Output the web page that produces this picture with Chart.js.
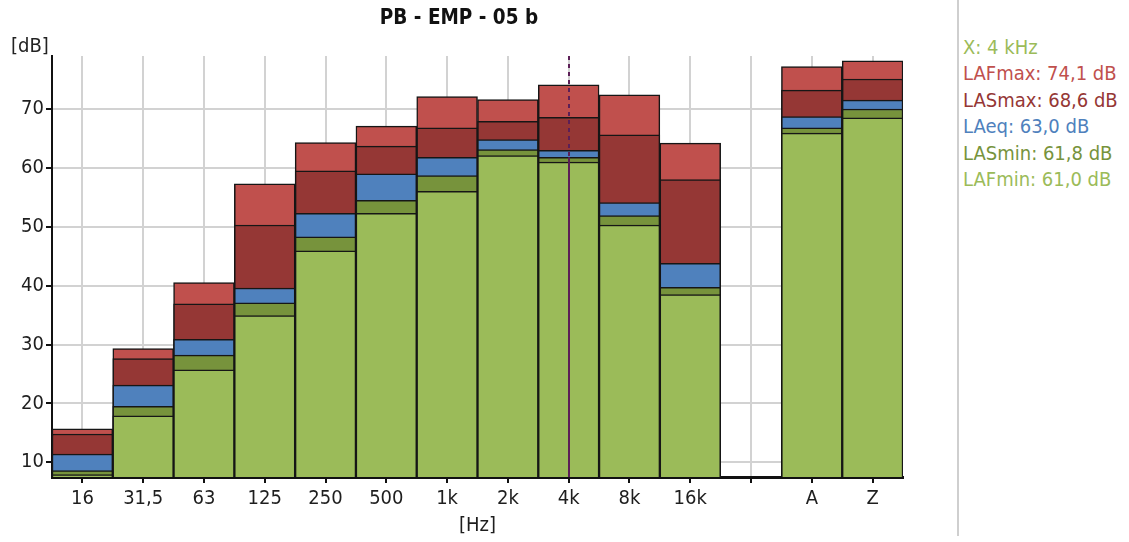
<!DOCTYPE html>
<html>
<head>
<meta charset="utf-8">
<title>PB - EMP - 05 b</title>
<script src="https://cdn.jsdelivr.net/npm/chart.js@4.4.1/dist/chart.umd.min.js"></script>
<style>
  body { margin: 0; background: #fff; font-family: 'DejaVu Sans Condensed', 'DejaVu Sans', sans-serif; }
  #wrap { position: absolute; left: 0; top: 0; width: 950px; height: 542px; }
  #dbUnit { position: absolute; left: 11px; top: 33px; font-size: 20px; color: #222; }
  #divider { position: absolute; left: 957px; top: 0; width: 2px; height: 536px; background: #cfcfcf; }
  #readout { position: absolute; left: 963px; top: 34px; font-size: 20px; line-height: 26.4px; white-space: nowrap; }
</style>
</head>
<body>
<div id="wrap"><canvas id="spectrum"></canvas></div>
<div id="dbUnit">[dB]</div>
<div id="divider"></div>
<div id="readout"></div>
<script>
// octave bands plus the A / Z weighted totals (empty slot keeps the gap)
const bands = ['16', '31,5', '63', '125', '250', '500', '1k', '2k', '4k', '8k', '16k', '', 'A', 'Z']
const lafMax = [15.7, 29.3, 40.5, 57.3, 64.3, 67.1, 72.1, 71.6, 74.1, 72.4, 64.2, null, 77.2, 78.2]
const lasMax = [14.8, 27.6, 36.9, 50.3, 59.5, 63.7, 66.8, 67.9, 68.6, 65.6, 58.0, null, 73.2, 75.1]
const laEq = [11.4, 23.1, 30.9, 39.6, 52.3, 59.0, 61.8, 64.8, 63.0, 54.1, 43.8, null, 68.7, 71.5]
const lasMin = [8.6, 19.5, 28.2, 37.1, 48.3, 54.5, 58.7, 63.1, 61.8, 51.9, 39.7, null, 66.8, 70.0]
const lafMin = [7.9, 17.9, 25.7, 34.9, 45.9, 52.3, 56.0, 62.1, 61.0, 50.3, 38.5, null, 65.9, 68.5]
const dbTicks = [10, 20, 30, 40, 50, 60, 70]

const cursorBand = '4k'
const cursorLabel = 'X: 4 kHz'

const FONT = "'DejaVu Sans Condensed', 'DejaVu Sans', sans-serif"
const TEXT = '#1e1e1e'

// first dataset is painted last, so the lowest level sits on top
const series = [
  { label: 'LAFmin', data: lafMin, color: '#9bbb59' },
  { label: 'LASmin', data: lasMin, color: '#77933c' },
  { label: 'LAeq', data: laEq, color: '#4f81bd' },
  { label: 'LASmax', data: lasMax, color: '#953735' },
  { label: 'LAFmax', data: lafMax, color: '#c0504d' },
]

// cursor: dashed above the levels, solid through the lowest band
const cursorLine = {
  id: 'cursorLine',
  afterDatasetsDraw(chart) {
    const idx = bands.indexOf(cursorBand)
    const x = Math.round(chart.scales.x.getPixelForValue(idx))
    const yMin = chart.scales.y.getPixelForValue(lasMin[idx])
    const area = chart.chartArea
    const ctx = chart.ctx
    ctx.save()
    ctx.strokeStyle = '#5c1f57'
    ctx.lineWidth = 2
    ctx.setLineDash([4, 4])
    ctx.beginPath()
    ctx.moveTo(x, area.top)
    ctx.lineTo(x, yMin)
    ctx.stroke()
    ctx.setLineDash([])
    ctx.beginPath()
    ctx.moveTo(x, yMin)
    ctx.lineTo(x, area.bottom)
    ctx.stroke()
    ctx.restore()
  },
}

new Chart(document.getElementById('spectrum').getContext('2d'), {
  type: 'bar',
  data: {
    labels: bands,
    datasets: series.map((s) => ({
      label: s.label,
      data: s.data,
      backgroundColor: s.color,
      borderColor: '#161616',
      borderWidth: 1.5,
      borderSkipped: false,
      barPercentage: 1,
      categoryPercentage: 1,
      grouped: false,
    })),
  },
  options: {
    responsive: true,
    maintainAspectRatio: false,
    animation: false,
    events: [],
    layout: { padding: { left: 15, right: 47, top: 0, bottom: 0 } },
    plugins: {
      legend: { display: false },
      tooltip: { enabled: false },
      title: {
        display: true,
        text: 'PB - EMP - 05 b',
        color: '#111',
        font: { family: FONT, size: 20.5, weight: 'bold' },
        padding: { top: 6, bottom: 25.4 },
      },
    },
    scales: {
      x: {
        offset: true,
        grid: { offset: false, color: '#d2d2d2', lineWidth: 2, tickColor: '#111', tickLength: 6 },
        border: { color: '#111', width: 3 },
        ticks: { color: TEXT, font: { family: FONT, size: 20 }, padding: 4, maxRotation: 0, autoSkip: false },
        title: { display: true, text: '[Hz]', color: TEXT, font: { family: FONT, size: 20 }, padding: { top: 0, bottom: 4 } },
        afterFit: (s) => { s.height = 65 },
      },
      y: {
        min: 7.5,
        max: 79,
        afterBuildTicks: (s) => { s.ticks = dbTicks.map((v) => ({ value: v })) },
        grid: { color: '#d2d2d2', lineWidth: 2, tickColor: '#111', tickLength: 6 },
        border: { color: '#111', width: 2 },
        ticks: { color: TEXT, font: { family: FONT, size: 20 }, padding: 2 },
        afterFit: (s) => { s.width = 37 },
      },
    },
  },
  plugins: [cursorLine],
})

// readout panel for the cursor band
const ci = bands.indexOf(cursorBand)
const fmt = (v) => v.toFixed(1).replace('.', ',') + ' dB'
const lines = [{ text: cursorLabel, color: '#9bbb59' }].concat(
  series.slice().reverse().map((s) => ({ text: s.label + ': ' + fmt(s.data[ci]), color: s.color }))
)
document.getElementById('readout').innerHTML = lines
  .map((l) => '<div style="color:' + l.color + '">' + l.text + '</div>')
  .join('')
</script>
</body>
</html>
